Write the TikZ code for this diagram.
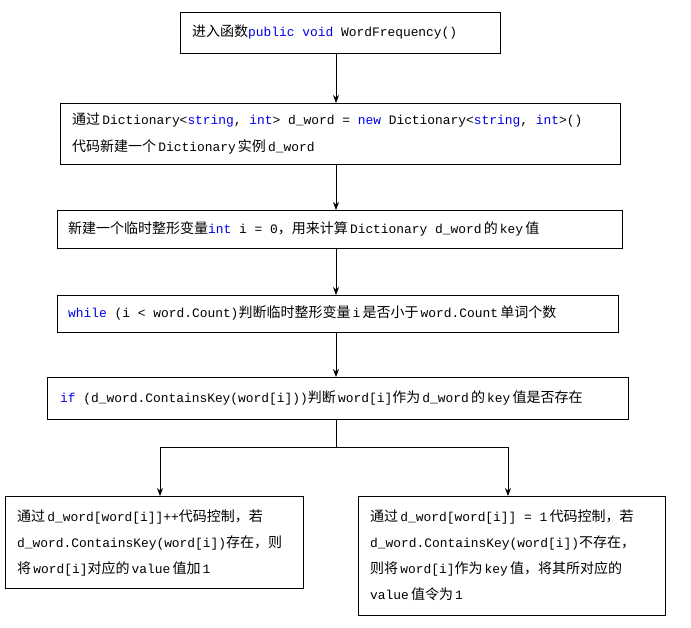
\documentclass[tikz,border=0pt]{standalone}
\usepackage{fontspec}
\setmainfont{Liberation Mono}
\newfontfamily\cjk{Noto Sans CJK SC}
\usetikzlibrary{arrows.meta}
\definecolor{kw}{RGB}{0,0,230}
\newcommand{\zh}[1]{{\cjk\fontsize{14}{14}\selectfont #1}}
\newcommand{\kw}[1]{\textcolor{kw}{#1}}
\begin{document}
\begin{tikzpicture}[x=1pt,y=-1pt,
  box/.style={draw,line width=0.8pt},
  txt/.style={inner sep=0pt,align=left,font=\fontsize{12.9}{26}\selectfont},
  arr/.style={line width=0.8pt,-{Stealth[length=8pt,width=6pt]}}]
\useasboundingbox (0,0) rectangle (691,627);
\draw[box] (180,12) rectangle (500,53);
\node[txt,anchor=west] (t1) at (192,32) {\zh{进入函数}\kw{public void} WordFrequency()};
\coordinate (b1) at (336,53);
\draw[box] (60,103) rectangle (620,164);
\node[txt,anchor=north west,font=\fontsize{12.9}{27}\selectfont] (t2) at (72,113) {\zh{通过}\,Dictionary<\kw{string}, \kw{int}> d\_word = \kw{new} Dictionary<\kw{string}, \kw{int}>()\\\zh{代码新建一个}\,Dictionary\,\zh{实例}\,d\_word};
\coordinate (a2) at (336,103); \coordinate (b2) at (336,164);
\draw[box] (57,210) rectangle (622,248);
\node[txt,anchor=west] (t3) at (68,229) {\zh{新建一个临时整形变量}\kw{int} i = 0\zh{，用来计算}\,Dictionary d\_word\,\zh{的}\,key\,\zh{值}};
\coordinate (a3) at (336,210); \coordinate (b3) at (336,248);
\draw[box] (57,295) rectangle (618,332);
\node[txt,anchor=west] (t4) at (68,313) {\kw{while} (i < word.Count)\zh{判断临时整形变量}\,i\,\zh{是否小于}\,word.Count\,\zh{单词个数}};
\coordinate (a4) at (336,295); \coordinate (b4) at (336,332);
\draw[box] (47,377) rectangle (628,419);
\node[txt,anchor=west] (t5) at (60,398) {\kw{if} (d\_word.ContainsKey(word[i]))\zh{判断}\,word[i]\zh{作为}\,d\_word\,\zh{的}\,key\,\zh{值是否存在}};
\coordinate (a5) at (336,377); \coordinate (b5) at (336,419);
\coordinate (j) at (336,447); \coordinate (jl) at (160,447); \coordinate (jr) at (508,447);
\draw[box] (5,496) rectangle (303,588);
\node[txt,anchor=north west] (t6) at (17,510) {\zh{通过}\,d\_word[word[i]]++\zh{代码控制，若}\\d\_word.ContainsKey(word[i])\zh{存在，则}\\\zh{将}\,word[i]\zh{对应的}\,value\,\zh{值加}\,1};
\coordinate (a6) at (160,496);
\draw[box] (358,496) rectangle (665,615);
\node[txt,anchor=north west] (t7) at (370,510) {\zh{通过}\,d\_word[word[i]] = 1\,\zh{代码控制，若}\\d\_word.ContainsKey(word[i])\zh{不存在，}\\\zh{则将}\,word[i]\zh{作为}\,key\,\zh{值，将其所对应的}\\value\,\zh{值令为}\,1};
\coordinate (a7) at (508,496);
\draw[arr] (b1) -- (a2);
\draw[arr] (b2) -- (a3);
\draw[arr] (b3) -- (a4);
\draw[arr] (b4) -- (a5);
\draw[line width=0.8pt] (b5) -- (j) (jl) -- (jr);
\draw[arr] (jl) -- (a6);
\draw[arr] (jr) -- (a7);
\end{tikzpicture}
\end{document}
